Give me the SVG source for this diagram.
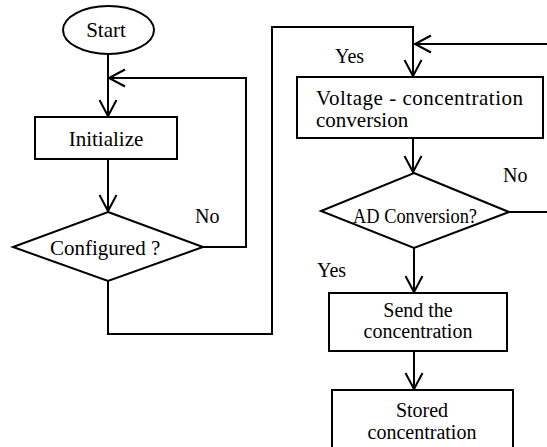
<svg xmlns="http://www.w3.org/2000/svg" width="547" height="447" viewBox="0 0 547 447">
<style>
.s{fill:#fff;stroke:#000;stroke-width:2}
.c{fill:none;stroke:#000;stroke-width:2}
text{font-family:'Liberation Serif','DejaVu Serif','Times New Roman',serif;font-size:21px;fill:#000}
.m{text-anchor:middle}
.l{font-size:20px}
.t{font-size:20px}
</style>
<defs>
<marker id="a" markerUnits="userSpaceOnUse" markerWidth="24" markerHeight="24" viewBox="-20 -12 24 24" refX="0" refY="0" orient="auto">
<path d="M-16,-8.5 L0,0 L-16,8.5" fill="none" stroke="#000" stroke-width="2"/>
</marker>
</defs>
<rect width="547" height="447" fill="#fff"/>
<g id="connectors">
<path class="c" d="M108,54 V116" marker-end="url(#a)"/>
<path class="c" d="M108,159 V211" marker-end="url(#a)"/>
<path class="c" d="M203,247 H246 V78 H109" marker-end="url(#a)"/>
<path class="c" d="M108,281 V334 H272 V27 H413 V76" marker-end="url(#a)"/>
<path class="c" d="M413,138 V172" marker-end="url(#a)"/>
<path class="c" d="M509,212 H560 V44 H415" marker-end="url(#a)"/>
<path class="c" d="M414,248 V292" marker-end="url(#a)"/>
<path class="c" d="M414,351 V389" marker-end="url(#a)"/>
</g>
<g id="start">
<ellipse class="s" cx="108.5" cy="30" rx="45.5" ry="24"/>
<text class="m" x="106" y="37" font-family="Liberation Serif, serif">Start</text>
</g>
<g id="initialize">
<rect class="s" x="35" y="117" width="142" height="42"/>
<text class="m" x="106" y="146">Initialize</text>
</g>
<g id="configured">
<polygon class="s" points="108,212 203,247 108,281 13,247"/>
<text x="50" y="255">Configured ?</text>
</g>
<g id="voltage">
<rect class="s" x="297" y="77" width="246" height="61"/>
<text x="316" y="105" textLength="207" lengthAdjust="spacing">Voltage - concentration</text>
<text x="316" y="127">conversion</text>
</g>
<g id="adconversion">
<polygon class="s" points="414,173 509,212 414,248 321,211"/>
<text x="353" y="223" textLength="124" lengthAdjust="spacingAndGlyphs">AD Conversion?</text>
</g>
<g id="send">
<rect class="s" x="329" y="293" width="178" height="58"/>
<text class="m t" x="418" y="317">Send the</text>
<text class="m t" x="418" y="338">concentration</text>
</g>
<g id="stored">
<rect class="s" x="332" y="390" width="181" height="70"/>
<text class="m t" x="422" y="417">Stored</text>
<text class="m t" x="422" y="439">concentration</text>
</g>
<g id="labels">
<text class="l" x="195" y="223">No</text>
<text class="l" x="335" y="63">Yes</text>
<text class="l" x="503" y="182">No</text>
<text class="l" x="317" y="277">Yes</text>
</g>
</svg>
